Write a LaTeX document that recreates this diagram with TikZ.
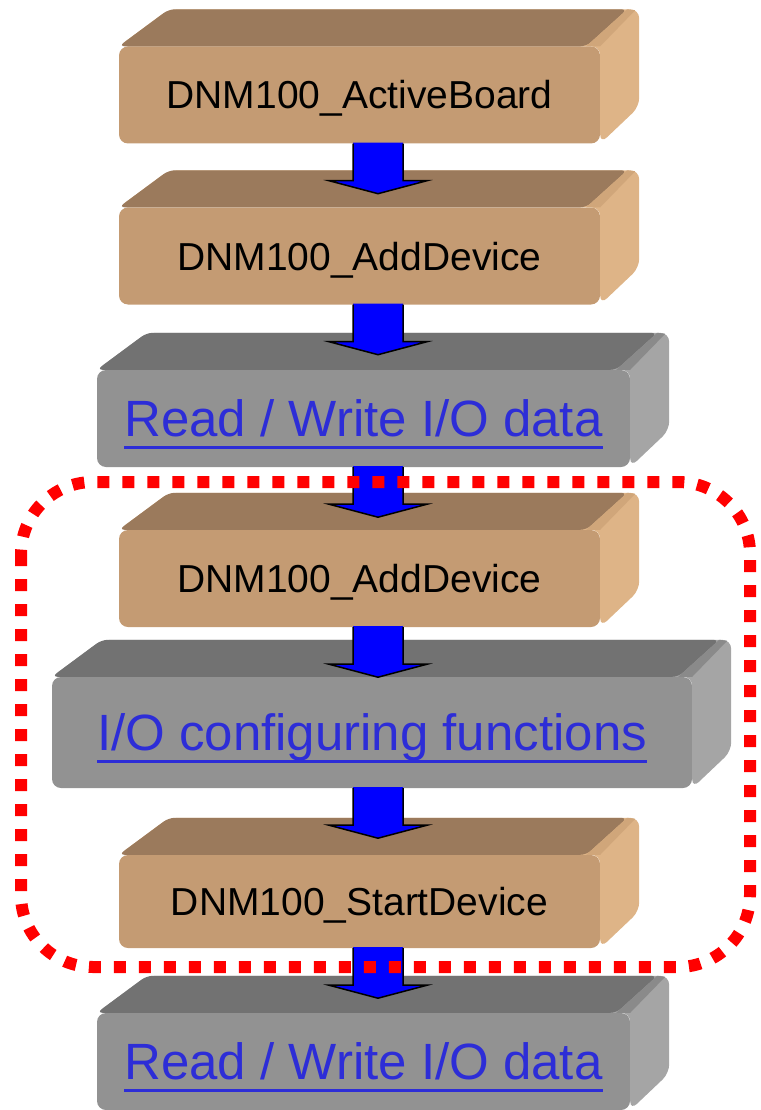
\documentclass[tikz,border=0pt]{standalone}
\usepackage{fontspec}
\setmainfont{Liberation Sans}
\usetikzlibrary{calc}
\definecolor{tanfront}{RGB}{196,155,115}
\definecolor{tantop}{RGB}{155,122,92}
\definecolor{tanside}{RGB}{222,180,135}
\definecolor{tanbevel}{RGB}{208,166,122}
\definecolor{grayfront}{RGB}{146,146,146}
\definecolor{graytop}{RGB}{114,114,114}
\definecolor{grayside}{RGB}{165,165,165}
\definecolor{graybevel}{RGB}{138,138,138}
\definecolor{linkblue}{RGB}{45,45,215}
\definecolor{arrowblue}{RGB}{0,0,255}
\definecolor{dashred}{RGB}{255,0,0}
\newsavebox\lnkbox
\newcommand\linktext[1]{\sbox\lnkbox{#1}\rlap{\rule[-0.235em]{\wd\lnkbox}{0.045em}}\usebox\lnkbox}
\newcommand\boxfaces[4]{%
  \fill[#3, rounded corners=9pt] (#1.north west) -- ($(#1.north west)+(50,-37)$) -- ($(#1.north east)+(39,-37)$) -- ($(#1.south east)+(39,-37)$) -- (#1.south east) -- (#1.north east) -- cycle;
  \fill[#2, rounded corners=6pt] (#1.north west) -- ($(#1.north west)+(50,-37)$) -- ($(#1.north east)+(27,-37)$) -- ($(#1.north east)+(-14,0)$) -- cycle;
  \fill[#4] ($(#1.north east)+(-14,0)$) -- ($(#1.north east)+(27,-37)$) -- ($(#1.north east)+(35,-36)$) -- (#1.north east) -- cycle;
}
\newcommand\flowarrow[2]{%
  \coordinate (#2s) at (#1.south -| col);
  \coordinate (#2) at ($(#2s)+(0,50)$);
  \fill[arrowblue] ($(#2s)+(-25,-1)$) -- ($(#2s)+(25,-1)$) -- ($(#2)+(25,-13)$) -- ($(#2)+(49,-13)$) -- (#2) -- ($(#2)+(-49,-13)$) -- ($(#2)+(-25,-13)$) -- cycle;
  \draw[arrowline] ($(#2s)+(-25,0)$) -- ($(#2)+(-25,-13)$) -- ($(#2)+(-49,-13)$) -- (#2) -- ($(#2)+(49,-13)$) -- ($(#2)+(25,-13)$) -- ($(#2s)+(25,0)$);
}
\tikzset{
  tanbox/.style={rectangle, rounded corners=9pt, fill=tanfront, minimum width=481pt, minimum height=97pt,
    inner sep=0pt, text height=28pt, text depth=0pt, font=\fontsize{39}{45}\selectfont, text=black},
  graybox/.style={rectangle, rounded corners=9pt, fill=grayfront, minimum width=533pt, minimum height=97pt,
    inner sep=0pt, text height=36.5pt, text depth=0pt, font=\fontsize{51}{58}\selectfont, text=linkblue},
  arrowline/.style={draw=black, line width=1.5pt, line join=miter},
  groupframe/.style={draw=dashred, line width=12pt, dash pattern=on 12pt off 13pt, rounded corners=72pt}
}
\begin{document}
\begin{tikzpicture}[x=1pt,y=-1pt]
\useasboundingbox (0,0) rectangle (760,1110);
\coordinate (col) at (378,0);
% boxes
\node[tanbox] (b1) at (359.5,95) {DNM100\_ActiveBoard};
\boxfaces{b1}{tantop}{tanside}{tanbevel}
\node[tanbox] (b2) at (359.5,256) {DNM100\_AddDevice};
\boxfaces{b2}{tantop}{tanside}{tanbevel}
\node[graybox] (b3) at (363.5,418.5) {\linktext{Read / Write I/O data}};
\boxfaces{b3}{graytop}{grayside}{graybevel}
\node[tanbox] (b4) at (359.5,578.5) {DNM100\_AddDevice};
\boxfaces{b4}{tantop}{tanside}{tanbevel}
\node[graybox, minimum width=640pt, minimum height=111pt] (b5) at (372,732.5) {\linktext{I/O configuring functions}};
\boxfaces{b5}{graytop}{grayside}{graybevel}
\node[tanbox, minimum height=93pt] (b6) at (359.5,901.5) {DNM100\_StartDevice};
\boxfaces{b6}{tantop}{tanside}{tanbevel}
\node[graybox] (b7) at (363.5,1061.5) {\linktext{Read / Write I/O data}};
\boxfaces{b7}{graytop}{grayside}{graybevel}
% arrows
\flowarrow{b1}{t1}
\flowarrow{b2}{t2}
\flowarrow{b3}{t3}
\flowarrow{b4}{t4}
\flowarrow{b5}{t5}
\flowarrow{b6}{t6}
% dashed group frame
\draw[groupframe] (21,482) rectangle (750,967);
\end{tikzpicture}
\end{document}
